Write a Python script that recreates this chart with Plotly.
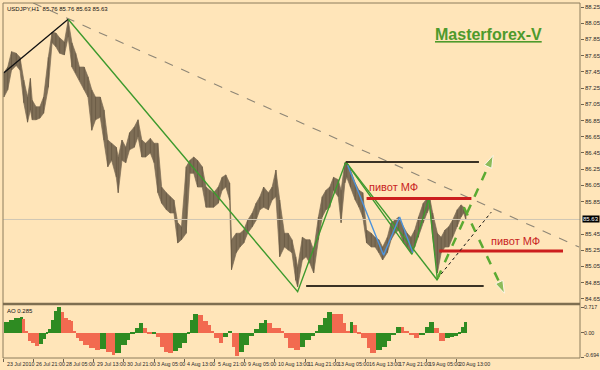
import plotly.graph_objects as go

# ---------------- data ----------------
bars = [0,4,8,13,17,21,25,28,30,34,38,42,47,51,55,59,64,68,72,76,80,85,89,93,97,102,106,110,114,119,
        121,125,129,133,138,142,146,150,155,159,163,167,172,176,180,184,188,193,197,201,205,210,214,218,222,
        227,231,235,239,241,246,250,254,258,263,267,271,275,280,284,288,292,297,301,305,309,311,316,320,324,
        328,333,337,341,345,349,354,357,361,363,367,372,376,380,384,389,393,397,401,406,410,414,418,423,427,
        431,435,439,444,448,451,454,459,463,467,471,475,480,484,487,489]
highs = [87.44,87.51,87.70,87.68,87.63,87.35,87.14,87.37,87.10,87.02,87.02,87.14,87.63,87.94,87.93,87.87,87.82,88.09,87.81,87.68,
         87.51,87.51,87.39,87.23,87.14,87.14,86.98,86.61,86.57,86.52,86.40,86.61,86.52,86.70,86.77,86.86,86.61,86.57,86.63,86.57,
         86.57,86.03,85.96,85.91,85.87,85.59,85.54,86.28,86.36,86.40,86.36,86.28,86.03,85.99,85.96,86.03,86.15,86.18,86.08,85.38,
         85.46,85.46,85.50,85.62,85.71,85.83,85.91,86.03,85.96,86.03,86.24,85.87,85.46,85.46,85.38,85.17,85.04,85.41,85.38,85.38,
         85.25,85.66,85.91,85.99,86.03,86.15,86.12,85.99,86.33,86.34,86.24,86.08,85.99,85.96,85.50,85.46,85.41,85.38,85.29,85.41,
         85.59,85.62,85.66,85.54,85.46,85.41,85.50,85.66,85.83,85.89,85.89,85.71,85.46,85.41,85.50,85.54,85.62,85.75,85.81,85.78,
         85.71]
lows = [87.14,87.23,87.47,87.53,87.47,87.07,86.83,86.98,86.86,86.86,86.88,86.94,87.26,87.81,87.76,87.68,87.66,87.88,87.51,87.44,
        87.35,87.23,87.14,86.73,86.86,86.89,86.61,86.28,86.36,86.15,85.96,86.36,86.33,86.49,86.52,86.65,86.40,86.40,86.45,86.33,
        85.96,85.83,85.75,85.71,85.71,85.34,85.38,85.46,86.20,86.20,86.03,86.03,85.78,85.78,85.78,85.83,85.99,86.03,85.87,85.01,
        85.22,85.29,85.34,85.46,85.54,85.62,85.75,85.78,85.75,85.87,85.91,85.17,85.29,85.25,85.22,84.88,84.80,85.13,85.17,85.09,
        84.97,85.38,85.66,85.75,85.78,85.99,85.91,85.59,86.08,86.15,86.03,85.87,85.78,85.66,85.34,85.29,85.29,85.22,85.13,85.22,
        85.38,85.46,85.50,85.34,85.29,85.22,85.29,85.41,85.59,85.71,85.78,85.41,84.97,85.22,85.29,85.29,85.41,85.54,85.66,85.71,
        85.63]

ao_bars = [0,5,11,17,20,22,25,29,33,37,41,45,47,50,53,56,60,64,68,71,73,76,80,84,90,96,102,108,114,118,
           124,130,134,139,143,147,151,157,161,165,169,174,179,184,189,194,197,200,205,211,216,219,222,228,232,
           237,241,245,249,254,260,265,270,275,279,284,288,293,297,301,307,313,319,325,329,333,338,342,347,353,
           359,362,366,370,374,378,384,388,394,400,406,410,415,420,424,429,434,440,446,450,455,461,467,472,477,
           481,484,488]
ao_vals = [0.31,0.36,0.40,0.45,0.38,0.05,-0.25,-0.30,-0.39,-0.32,-0.18,-0.05,0.10,0.35,0.62,0.71,0.58,0.42,0.36,0.33,
           0.02,-0.15,-0.25,-0.35,-0.44,-0.49,-0.47,-0.54,-0.63,-0.58,-0.35,-0.20,-0.03,0.12,0.28,0.12,-0.04,-0.02,-0.12,-0.40,
           -0.56,-0.58,-0.52,-0.44,-0.30,-0.03,0.35,0.52,0.50,0.32,0.22,0.03,-0.16,-0.30,-0.12,0.03,-0.40,-0.68,-0.54,-0.35,
           -0.10,0.10,0.26,0.36,0.26,0.14,0.12,0.02,-0.16,-0.44,-0.49,-0.40,-0.20,-0.10,0.05,0.22,0.40,0.57,0.53,0.53,
           0.26,0.02,0.31,0.20,-0.05,-0.16,-0.44,-0.58,-0.49,-0.40,-0.25,-0.08,0.17,0.17,0.03,-0.07,-0.16,-0.07,0.15,0.29,
           0.12,-0.25,-0.16,-0.13,-0.11,-0.02,0.15,0.285]

date_ticks = [0, 31, 63, 95, 127, 159, 191, 223, 255, 287, 319, 351, 383, 415, 447, 479]
date_labels = ["23 Jul 2010", "26 Jul 21:00", "28 Jul 05:00", "29 Jul 13:00", "30 Jul 21:00", "3 Aug 05:00",
               "4 Aug 13:00", "5 Aug 21:00", "9 Aug 05:00", "10 Aug 13:00", "11 Aug 21:00", "13 Aug 05:00",
               "16 Aug 13:00", "17 Aug 21:00", "19 Aug 05:00", "20 Aug 13:00"]
price_ticks = [84.65, 84.85, 85.05, 85.25, 85.45, 85.85, 86.05, 86.25, 86.45, 86.65, 86.85,
               87.05, 87.25, 87.45, 87.65, 87.85, 88.05, 88.25]
ao_ticks = [-0.694, 0.0, 0.717]
ao_tick_labels = ["-0.694", "0.00", "0.717"]
last_price = 85.63

# analysis lines (bar index, price)
black_trend = ([0, 68], [87.44, 88.10])
dash_trend = ([31, 609], [88.30, 85.29])
green_wave = ([68, 311, 362], [88.10, 84.74, 86.34])
green_wave2 = ([362, 432, 450, 459], [86.34, 85.20, 85.89, 84.88])
green_wave3 = ([362, 459], [86.34, 84.88])
blue_wave = ([364, 402, 419, 433], [86.30, 85.19, 85.66, 85.22])
top_level = ([362, 503], [86.34, 86.34])
bottom_level = ([320, 508], [84.81, 84.81])
pivot_up = ([384, 495], [85.89, 85.89])
pivot_low = ([461, 592], [85.24, 85.24])
dotted_trend = ([459, 516], [84.90, 85.72])
arrow_up = ([459, 518], [84.90, 86.42])
arrow_down = ([487, 530], [85.78, 84.72])

BG = "#FFE5B9"
FONT = "Liberation Sans"
TXT = "#2A2A2A"

fig = go.Figure()

# price band (high/low envelope) plus vertical high-low strokes
fig.add_trace(go.Scatter(x=bars + bars[::-1], y=highs + lows[::-1], mode="lines", fill="toself",
                         fillcolor="#7E6E56", line=dict(color="#7C6C54", width=0.7),
                         xaxis="x", yaxis="y", hoverinfo="skip"))
vx, vy = [], []
for b, h, l in zip(bars, highs, lows):
    vx += [b, b, None]; vy += [l, h, None]
fig.add_trace(go.Scatter(x=vx, y=vy, mode="lines", line=dict(color="#6C5D47", width=1.0),
                         xaxis="x", yaxis="y", hoverinfo="skip"))

def seg(xy, color, width, dash="solid"):
    fig.add_trace(go.Scatter(x=xy[0], y=xy[1], mode="lines", line=dict(color=color, width=width, dash=dash),
                             xaxis="x", yaxis="y", hoverinfo="skip"))

seg(([-1, 610], [last_price, last_price]), "#CFC6B4", 1)
seg(dash_trend, "#8E8676", 1.1, "dash")
seg(black_trend, "#111111", 1.3)
seg(green_wave, "#3E9A2E", 1.4)
seg(green_wave3, "#3E9A2E", 1.4)
seg(green_wave2, "#3E9A2E", 1.4)
seg(blue_wave, "#4D93DB", 1.4)
seg(top_level, "#3A3224", 2)
seg(bottom_level, "#3A3224", 2)
seg(pivot_up, "#CC1E1E", 3)
seg(pivot_low, "#CC1E1E", 3)
seg(dotted_trend, "#111111", 1, "dot")

for arr in (arrow_up, arrow_down):
    fig.add_trace(go.Scatter(x=arr[0], y=arr[1], mode="lines+markers",
                             line=dict(color="#5BAA32", width=2.5, dash="dash"),
                             marker=dict(symbol="arrow", angleref="previous", size=[0, 13], color="#5BAA32"),
                             xaxis="x", yaxis="y", hoverinfo="skip"))

# AO histogram
ao_colors = []
for i, v in enumerate(ao_vals):
    prev = ao_vals[i - 1] if i > 0 else v - 1
    ao_colors.append("#2E8B22" if v > prev else "#F26A50")
widths = [ao_bars[i + 1] - ao_bars[i] for i in range(len(ao_bars) - 1)] + [2]
fig.add_trace(go.Bar(x=ao_bars, y=ao_vals, width=widths, offset=0, marker=dict(color=ao_colors, line=dict(width=0)),
                     xaxis="x2", yaxis="y2", hoverinfo="skip"))

ax_common = dict(showgrid=False, zeroline=False, automargin=False)
fig.update_layout(
    width=600, height=370, showlegend=False, bargap=0,
    paper_bgcolor=BG, plot_bgcolor=BG,
    margin=dict(l=3, r=20, t=3, b=12),
    font=dict(family=FONT, size=7, color=TXT),
    xaxis=dict(domain=[0, 1], anchor="y", range=[-1, 610], showticklabels=False, ticks="", **ax_common),
    yaxis=dict(domain=[0.155, 1], anchor="x", side="right", range=[84.60, 88.30], tickvals=price_ticks,
               showticklabels=False, ticks="outside", ticklen=3, tickcolor="#6F6450", **ax_common),
    xaxis2=dict(domain=[0, 1], anchor="y2", range=[-1, 610], tickvals=date_ticks, showticklabels=False,
                ticks="outside", ticklen=3, tickcolor="#6F6450", **ax_common),
    yaxis2=dict(domain=[0, 0.149], anchor="x2", side="right", range=[-0.72, 0.78],
                tickvals=ao_ticks, showticklabels=False, ticks="outside", ticklen=3,
                tickcolor="#6F6450", **ax_common),
)

# axis labels as annotations (MetaTrader style placement)
for v in price_ticks:
    fig.add_annotation(text=f"{v:.2f}", xref="paper", yref="y", x=1.0, y=v, xanchor="left", yanchor="middle",
                       xshift=3, showarrow=False, font=dict(size=6, color=TXT, family=FONT))
for v, t, ys in zip(ao_ticks, ao_tick_labels, [2, 0, 0]):
    fig.add_annotation(text=t, xref="paper", yref="y2", x=1.0, y=v, xanchor="left", yanchor="middle",
                       xshift=2, yshift=ys, showarrow=False, font=dict(size=5.3, color=TXT, family=FONT))
for b, t in zip(date_ticks, date_labels):
    fig.add_annotation(text=t, xref="x2", yref="paper", x=b, y=0, xanchor="left", yanchor="top",
                       xshift=1, yshift=-1, showarrow=False, font=dict(size=5.3, color=TXT, family=FONT))

fig.add_shape(type="rect", xref="paper", yref="paper", x0=0, x1=1, y0=0, y1=1,
              line=dict(color="#8C7C5C", width=1))
fig.add_shape(type="line", xref="paper", yref="paper", x0=0, x1=1, y0=0.152, y1=0.152,
              line=dict(color="#7E6E50", width=2.5))

fig.add_annotation(text="USDJPY,H1  85.76 85.76 85.63 85.63", xref="paper", yref="paper", x=0.004, y=0.998,
                   xanchor="left", yanchor="top", showarrow=False, font=dict(size=6, color="#111", family=FONT))
fig.add_annotation(text="AO 0.285", xref="paper", yref="paper", x=0.004, y=0.146,
                   xanchor="left", yanchor="top", showarrow=False, font=dict(size=6, color="#111", family=FONT))
fig.add_annotation(text="<b><u>Masterforex-V</u></b>", xref="paper", yref="paper", x=0.842, y=0.91,
                   xanchor="center", yanchor="middle",
                   showarrow=False, font=dict(size=16, color="#4E9A2C", family=FONT))
fig.add_annotation(text="пивот МФ", x=412, y=86.03, xref="x", yref="y", showarrow=False,
                   xanchor="center", yanchor="middle", font=dict(size=11, color="#C81E1E", family=FONT))
fig.add_annotation(text="пивот МФ", x=542, y=85.36, xref="x", yref="y", showarrow=False,
                   xanchor="center", yanchor="middle", font=dict(size=11, color="#C81E1E", family=FONT))
fig.add_annotation(text=f"{last_price:.2f}", xref="paper", yref="y", x=1.0, y=last_price, xanchor="left",
                   yanchor="middle", xshift=2, showarrow=False, bgcolor="#000000", borderpad=0,
                   font=dict(size=6, color="#FFFFFF", family=FONT))

fig.write_html("out.html", config={"displayModeBar": False},
               post_script="document.body.style.margin='0px';document.body.style.padding='0px';")
